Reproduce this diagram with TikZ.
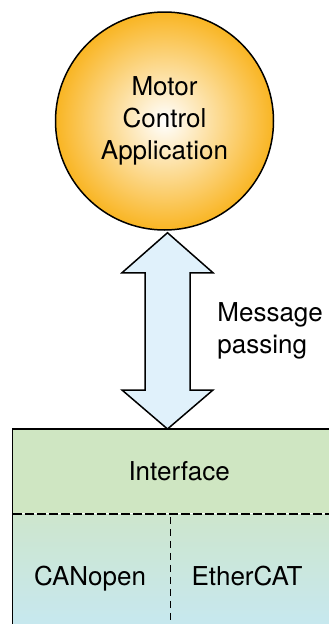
\documentclass[tikz,border=0pt]{standalone}
\usepackage{fontspec}
\setmainfont{TeX Gyre Heros}
\usetikzlibrary{
    arrows.meta,
    positioning,
    calc
}

\definecolor{appOrange}{RGB}{249,181,35}
\definecolor{ifaceGreen}{RGB}{207,230,194}
\definecolor{busGreen}{RGB}{205,230,205}
\definecolor{busBlue}{RGB}{198,232,244}
\definecolor{msgBlue}{RGB}{224,241,251}

\begin{document}
\begin{tikzpicture}[
    x=1pt, y=1pt,
    thick,
    lab/.style={font=\fontsize{26}{32}\selectfont, inner sep=0pt},
    app/.style={circle, draw, line width=1.5pt, minimum size=218pt,
                inner color=white, outer color=appOrange, align=center},
    ifbox/.style={rectangle, fill=ifaceGreen,
                  minimum width=332pt, minimum height=84pt},
    busbox/.style={rectangle, top color=busGreen, bottom color=busBlue,
                   minimum width=332pt, minimum height=127pt},
    msg/.style={draw, line width=1.5pt, fill=msgBlue, line join=miter},
    hsep/.style={dash pattern=on 9pt off 3pt, line width=1.5pt},
    vsep/.style={dash pattern=on 7pt off 5pt, line width=1.5pt}
]

\useasboundingbox (0,0) rectangle (329,-624);
\clip (0,0) rectangle (329,-624);

% =========================
% 1) APPLICATION (TOP)
% =========================
\node[app, lab] (app) at (164.5,-121) {Motor\\Control\\Application};

% =========================
% 2) INTERFACE + BUSES (BOTTOM)
% =========================
\node[ifbox, lab, anchor=north west] (iface) at (12.7,-429) {Interface};
\node[busbox, anchor=north west] (bus) at (iface.south west) {};

\draw[line width=1.5pt] (iface.north west) rectangle (bus.south east);
\draw[hsep] (iface.south west) -- (iface.south east);

\coordinate (split) at ($(iface.south west)+(158,-3)$);
\draw[vsep] (split) -- (split |- bus.south);

\node[lab, anchor=base] (canopen)  at (90,-585.7)  {CANopen};
\node[lab, anchor=base] (ethercat) at (247,-585.7) {EtherCAT};

% =========================
% 3) MESSAGE PASSING ARROW
% =========================
\coordinate (mtop) at ($(app.south)+(3,-2)$);
\coordinate (mbot) at (mtop |- iface.north);

\draw[msg] (mtop) -- ($(mtop)+(-45.5,-40)$) -- ($(mtop)+(-22.5,-40)$)
    -- ($(mbot)+(-22.5,39)$) -- ($(mbot)+(-45.5,39)$) -- (mbot)
    -- ($(mbot)+(45.5,39)$) -- ($(mbot)+(22.5,39)$)
    -- ($(mtop)+(22.5,-40)$) -- ($(mtop)+(45.5,-40)$) -- cycle;

\node[lab, anchor=west, align=left] (msgtxt)
    at ($(mtop)!0.5!(mbot)+(49.5,0)$) {Message\\passing};

\end{tikzpicture}
\end{document}
